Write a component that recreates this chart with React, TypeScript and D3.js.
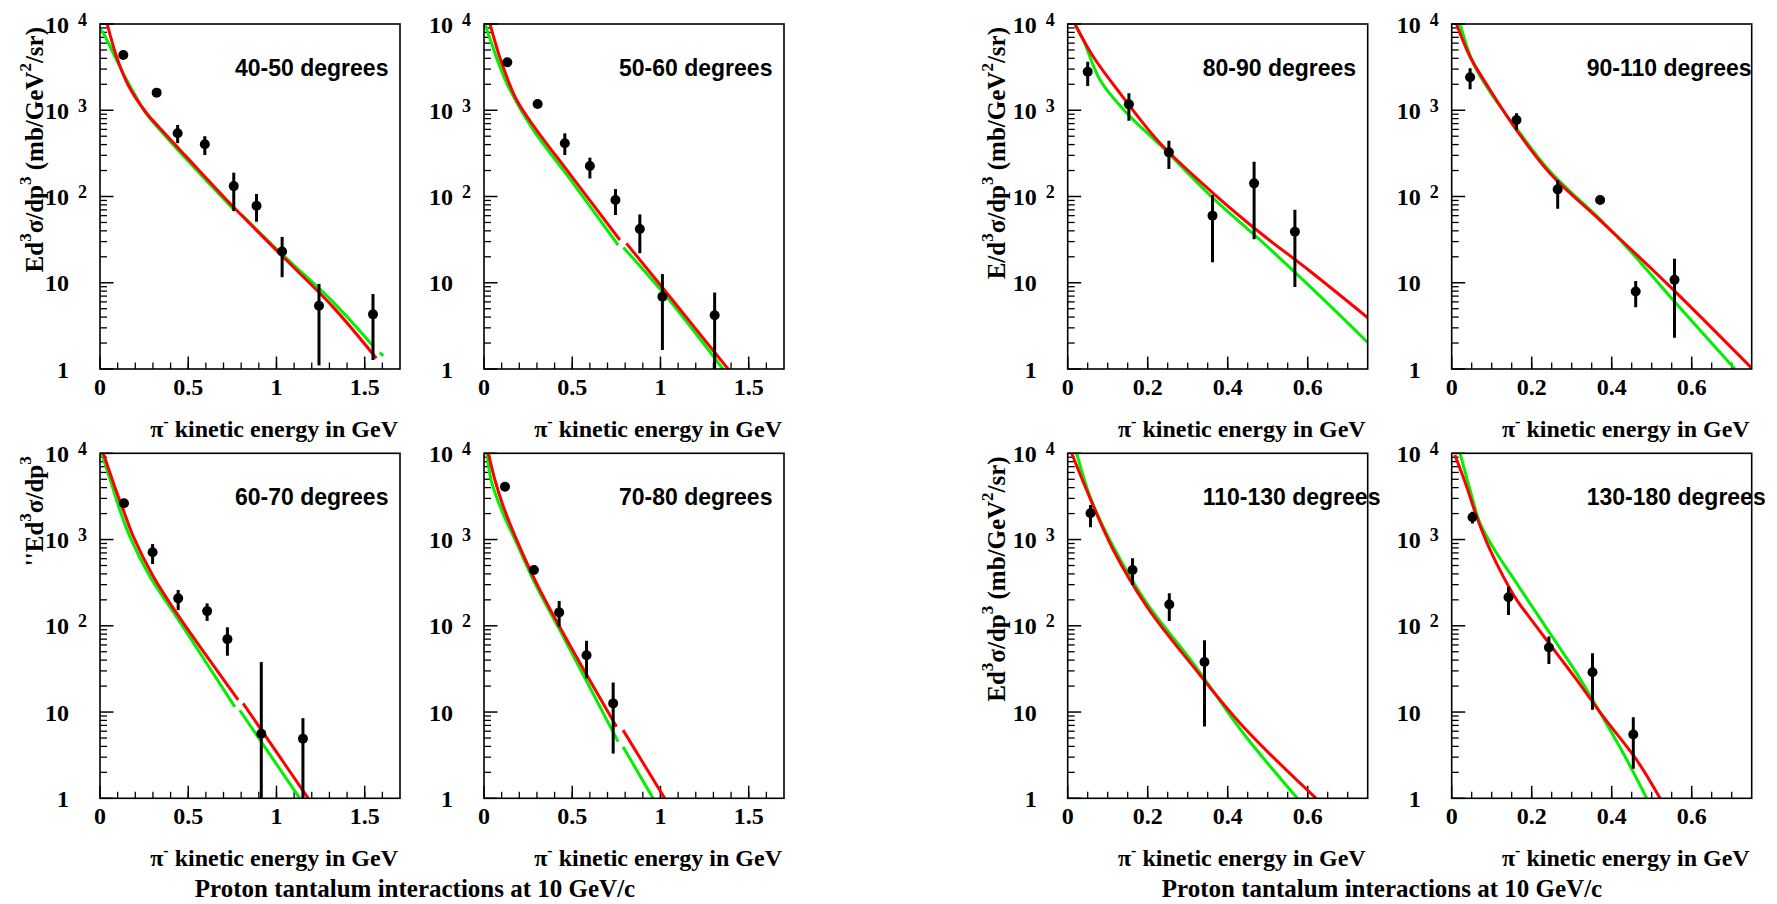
import React from "react";
import * as d3 from "d3";

type Pt = [number, number];

const W = 1777;
const H = 904;

// ---------- text ----------
const panelLabels = [
  "40-50 degrees", "50-60 degrees", "60-70 degrees", "70-80 degrees",
  "80-90 degrees", "90-110 degrees", "110-130 degrees", "130-180 degrees",
];
const xTickValuesLow = [0, 0.5, 1, 1.5];
const xTickLabelsLow = ["0", "0.5", "1", "1.5"];
const xTickValuesHigh = [0, 0.2, 0.4, 0.6];
const xTickLabelsHigh = ["0", "0.2", "0.4", "0.6"];
const yDecades = [1, 10, 100, 1000, 10000];
const yDecadeBase = ["1", "10", "10", "10", "10"];
const yDecadeExp = ["", "", "2", "3", "4"];
const xTitleRest = " kinetic energy in GeV";
const bottomTitle = "Proton tantalum interactions at 10 GeV/c";

type Part = { t: string; sup?: boolean };
const yTitleFull: Part[] = [
  { t: "Ed" }, { t: "3", sup: true }, { t: "σ/dp" }, { t: "3", sup: true },
  { t: " (mb/GeV" }, { t: "2", sup: true }, { t: "/sr)" },
];
const yTitleShort: Part[] = [
  { t: "''Ed" }, { t: "3", sup: true }, { t: "σ/dp" }, { t: "3", sup: true },
];
const yTitleSlash: Part[] = [
  { t: "E/d" }, { t: "3", sup: true }, { t: "σ/dp" }, { t: "3", sup: true },
  { t: " (mb/GeV" }, { t: "2", sup: true }, { t: "/sr)" },
];

// ---------- data: 40-50 degrees ----------
const e40 = [0.132, 0.321, 0.44, 0.594, 0.758, 0.887, 1.032, 1.241, 1.547];
const v40 = [4370, 1600, 540, 403, 132, 78, 23, 5.4, 4.3];
const lo40 = [4000, 1470, 415, 303, 68, 51, 11.6, 1.1, 1.27];
const hi40 = [4750, 1740, 675, 500, 189, 107, 34, 9.7, 7.4];
const red40: Pt[][] = [[[0.041, 10000], [0.094, 4170], [0.16, 1950], [0.264, 923], [0.34, 617], [0.49, 288], [0.755, 75.9], [1.037, 20], [1.32, 5.25], [1.566, 1.33]]];
const green40: Pt[][] = [
  [[0, 8700], [0.019, 7800], [0.085, 4170], [0.1415, 2450], [0.264, 900], [0.34, 590], [0.49, 270], [0.764, 68.4]],
  [[0.8, 62], [1.037, 20.9], [1.32, 6.0], [1.55, 1.82]],
  [[1.585, 1.55], [1.605, 1.42]],
];

// ---------- data: 50-60 degrees ----------
const e50 = [0.132, 0.304, 0.458, 0.6, 0.745, 0.883, 1.011, 1.307];
const v50 = [3600, 1180, 414, 226, 91, 42, 6.9, 4.2];
const lo50 = [3300, 1090, 303, 162, 61, 22, 1.66, 1.0];
const hi50 = [3900, 1270, 540, 282, 122, 62, 12.6, 7.7];
const red50: Pt[][] = [
  [[0.034, 10000], [0.099, 3600], [0.185, 1315], [0.298, 590], [0.487, 182], [0.77, 31.3]],
  [[0.807, 28.6], [1.053, 6.89], [1.383, 1.0]],
];
const green50: Pt[][] = [
  [[0.006, 10000], [0.09, 3200], [0.147, 1720], [0.279, 590], [0.487, 160], [0.76, 27.4]],
  [[0.79, 25.7], [1.05, 6.3], [1.354, 1.0]],
];

// ---------- data: 60-70 degrees ----------
const e60 = [0.136, 0.298, 0.443, 0.607, 0.722, 0.914, 1.15];
const v60 = [2630, 711, 208, 148, 70, 5.6, 4.9];
const lo60 = [2420, 520, 152, 114, 45, 1.0, 1.0];
const hi60 = [2850, 887, 260, 182, 96, 38, 8.5];
const red60: Pt[][] = [
  [[0.019, 10000], [0.075, 4600], [0.132, 2200], [0.189, 1080], [0.302, 372], [0.434, 140], [0.783, 13.8]],
  [[0.811, 12.6], [1.18, 1.0]],
];
const green60: Pt[][] = [
  [[0.009, 10000], [0.06, 4800], [0.113, 2190], [0.17, 1070], [0.283, 372], [0.434, 127], [0.764, 11.5]],
  [[0.792, 10.5], [1.132, 1.0]],
];

// ---------- data: 70-80 degrees ----------
const e70 = [0.119, 0.283, 0.426, 0.581, 0.732];
const v70 = [4100, 444, 143, 45.5, 12.6];
const lo70 = [3780, 410, 98, 24.6, 3.3];
const hi70 = [4450, 480, 194, 67, 22];
const red70: Pt[][] = [
  [[0.025, 10000], [0.062, 4900], [0.11, 2400], [0.185, 990], [0.298, 311], [0.449, 82], [0.751, 6.76]],
  [[0.788, 6.17], [1.024, 1.0]],
];
const green70: Pt[][] = [
  [[0.017, 10000], [0.04, 4900], [0.1, 2190], [0.185, 906], [0.298, 284], [0.449, 75], [0.76, 4.54]],
  [[0.788, 3.96], [0.958, 1.0]],
];

// ---------- data: 80-90 degrees ----------
const e80 = [0.05, 0.153, 0.253, 0.362, 0.466, 0.568];
const v80 = [2800, 1170, 325, 60, 142, 39];
const lo80 = [1910, 757, 208, 17.3, 32, 8.9];
const hi80 = [3660, 1570, 444, 104, 253, 70];
const red80: Pt[][] = [[[0.018, 10000], [0.064, 4170], [0.131, 1570], [0.231, 414], [0.364, 109], [0.481, 38], [0.606, 13.6], [0.752, 3.87]]];
const green80: Pt[][] = [[[0.018, 10000], [0.039, 6530], [0.081, 2240], [0.148, 923], [0.231, 395], [0.364, 95], [0.481, 31.3], [0.606, 9.0], [0.752, 1.99]]];

// ---------- data: 90-110 degrees ----------
const e90 = [0.046, 0.162, 0.265, 0.371, 0.46, 0.557];
const v90 = [2410, 771, 121, 91, 7.9, 10.8];
const lo90 = [1750, 590, 72, 84, 5.2, 2.3];
const hi90 = [3060, 922, 154, 98, 10.5, 19];
const red90: Pt[][] = [[[0.012, 10000], [0.046, 4170], [0.096, 1720], [0.162, 590], [0.246, 185], [0.379, 48.9], [0.546, 9.0], [0.752, 1.0]]];
const green90: Pt[][] = [[[0.021, 10000], [0.054, 3500], [0.104, 1435], [0.162, 617], [0.246, 195], [0.379, 50], [0.446, 23.5], [0.546, 6.9], [0.708, 1.0]]];

// ---------- data: 110-130 degrees ----------
const e110 = [0.057, 0.162, 0.254, 0.342];
const v110 = [2015, 444, 177, 38];
const lo110 = [1390, 297, 114, 6.8];
const hi110 = [2510, 606, 238, 68];
const red110: Pt[][] = [[[0.01, 10000], [0.056, 3000], [0.114, 757], [0.198, 167], [0.314, 33.6], [0.439, 6.76], [0.621, 1.0]]];
const green110: Pt[][] = [[[0.0225, 10000], [0.056, 3140], [0.114, 826], [0.198, 182], [0.314, 36.7], [0.439, 5.68], [0.574, 1.0]]];

// ---------- data: 130-180 degrees ----------
const e130 = [0.052, 0.142, 0.243, 0.352, 0.454];
const v130 = [1810, 214, 56, 28.9, 5.5];
const lo130 = [1540, 133, 36, 10.6, 2.2];
const hi130 = [2100, 284, 75, 48, 8.7];
const red130: Pt[][] = [[[0.008, 9550], [0.0375, 4100], [0.0625, 1840], [0.096, 757], [0.129, 372], [0.1625, 200], [0.212, 98], [0.2625, 47.9], [0.3125, 23.6], [0.379, 8.83], [0.4625, 2.78], [0.521, 1.0]]];
const green130: Pt[][] = [[[0.021, 10000], [0.046, 3760], [0.071, 1540], [0.1125, 692], [0.1625, 311], [0.212, 140], [0.2625, 62.7], [0.3125, 28.1], [0.3625, 11.5], [0.429, 3.33], [0.4875, 1.0]]];

// ---------- assemble ----------
const panelData = [
  { e: e40, v: v40, lo: lo40, hi: hi40, red: red40, green: green40 },
  { e: e50, v: v50, lo: lo50, hi: hi50, red: red50, green: green50 },
  { e: e60, v: v60, lo: lo60, hi: hi60, red: red60, green: green60 },
  { e: e70, v: v70, lo: lo70, hi: hi70, red: red70, green: green70 },
  { e: e80, v: v80, lo: lo80, hi: hi80, red: red80, green: green80 },
  { e: e90, v: v90, lo: lo90, hi: hi90, red: red90, green: green90 },
  { e: e110, v: v110, lo: lo110, hi: hi110, red: red110, green: green110 },
  { e: e130, v: v130, lo: lo130, hi: hi130, red: red130, green: green130 },
];
const yTitles: (Part[] | null)[] = [yTitleFull, null, yTitleShort, null, yTitleSlash, null, yTitleFull, null];

// ---------- layout ----------
const frameW = 300;
const frameH = 345;
const colX = [100, 484, 1067.7, 1451.7];
const rowY = [24, 453.3];
const panelCol = [0, 1, 0, 1, 2, 3, 2, 3];
const panelRow = [0, 0, 1, 1, 0, 0, 1, 1];

const serif = "'Liberation Serif', 'Times New Roman', serif";
const sans = "'Liberation Sans', Arial, sans-serif";

function Panel({ idx }: { idx: number }) {
  const x0 = colX[panelCol[idx]];
  const y0 = rowY[panelRow[idx]];
  const high = idx >= 4;
  const xMax = high ? 0.75 : 1.7;
  const xs = d3.scaleLinear().domain([0, xMax]).range([x0, x0 + frameW]);
  const ys = d3.scaleLog().domain([1, 10000]).range([y0 + frameH, y0]);
  const d = panelData[idx];
  const line = d3
    .line<Pt>()
    .x((p) => xs(p[0]))
    .y((p) => ys(p[1]))
    .curve(d3.curveCatmullRom.alpha(0.5));

  const majorX = high ? xTickValuesHigh : xTickValuesLow;
  const majorXLabels = high ? xTickLabelsHigh : xTickLabelsLow;
  const minorStep = high ? 0.05 : 0.1;
  const minorX: number[] = [];
  for (let k = 1; k * minorStep < xMax - 1e-9; k++) minorX.push(+(k * minorStep).toFixed(4));

  const minorY: number[] = [];
  for (let dec = 0; dec < 4; dec++) for (let m = 2; m <= 9; m++) minorY.push(m * Math.pow(10, dec));

  const bottom = y0 + frameH;
  const title = yTitles[idx];
  const titleX = x0 - (high ? 63 : 57);
  const clipId = `clip${idx}`;

  return (
    <g>
      <defs>
        <clipPath id={clipId}>
          <rect x={x0} y={y0} width={frameW} height={frameH} />
        </clipPath>
      </defs>
      {minorX.map((t, i) => (
        <line key={"mx" + i} x1={xs(t)} x2={xs(t)} y1={bottom} y2={bottom - 6.5} stroke="#000" strokeWidth={1.3} />
      ))}
      {majorX.map((t, i) => (
        <line key={"Mx" + i} x1={xs(t)} x2={xs(t)} y1={bottom} y2={bottom - 12.5} stroke="#000" strokeWidth={1.5} />
      ))}
      {minorY.map((t, i) => (
        <line key={"my" + i} x1={x0} x2={x0 + 7} y1={ys(t)} y2={ys(t)} stroke="#000" strokeWidth={1.3} />
      ))}
      {yDecades.map((t, i) => (
        <line key={"My" + i} x1={x0} x2={x0 + 13.5} y1={ys(t)} y2={ys(t)} stroke="#000" strokeWidth={1.5} />
      ))}
      {majorX.map((t, i) => (
        <text key={"xl" + i} x={xs(t)} y={bottom + 26} textAnchor="middle" fontFamily={serif} fontWeight="bold" fontSize={24}>
          {majorXLabels[i]}
        </text>
      ))}
      {yDecades.map((t, i) => (
        <g key={"yl" + i}>
          <text x={x0 - 31} y={ys(t) + 8.5} textAnchor="end" fontFamily={serif} fontWeight="bold" fontSize={24}>
            {yDecadeBase[i]}
          </text>
          {yDecadeExp[i] && (
            <text x={x0 - 22} y={ys(t) + 1.5} textAnchor="start" fontFamily={serif} fontWeight="bold" fontSize={18}>
              {yDecadeExp[i]}
            </text>
          )}
        </g>
      ))}
      <g clipPath={`url(#${clipId})`}>
        {d.green.map((seg, i) => (
          <path key={"g" + i} d={line(seg) || ""} fill="none" stroke="#00f000" strokeWidth={3} />
        ))}
        {d.red.map((seg, i) => (
          <path key={"r" + i} d={line(seg) || ""} fill="none" stroke="#ff0000" strokeWidth={3} />
        ))}
        {d.e.map((e, i) => (
          <line key={"eb" + i} x1={xs(e)} x2={xs(e)} y1={ys(d.lo[i])} y2={ys(d.hi[i])} stroke="#000" strokeWidth={3} />
        ))}
        {d.e.map((e, i) => (
          <circle key={"pt" + i} cx={xs(e)} cy={ys(d.v[i])} r={5} fill="#000" />
        ))}
      </g>
      <rect x={x0} y={y0} width={frameW} height={frameH} fill="none" stroke="#000" strokeWidth={1.6} />
      <text x={x0 + 135} y={y0 + 52} fontFamily={sans} fontWeight="bold" fontSize={23}>
        {panelLabels[idx]}
      </text>
      <text x={x0 + frameW - 2} y={bottom + 68} textAnchor="end" fontFamily={serif} fontWeight="bold" fontSize={24}>
        <tspan>π</tspan>
        <tspan dy={-10} fontSize={16}>-</tspan>
        <tspan dy={10}>{xTitleRest}</tspan>
      </text>
      {title && (
        <text
          transform={`translate(${titleX},${y0 + 3}) rotate(-90)`}
          textAnchor="end"
          fontFamily={serif}
          fontWeight="bold"
          fontSize={25}
        >
          {title.map((p, i) => {
            const prevSup = i > 0 && title[i - 1].sup;
            const dy = p.sup ? -12 : prevSup ? 12 : 0;
            return (
              <tspan key={i} dy={dy} fontSize={p.sup ? 17 : 25}>
                {p.t}
              </tspan>
            );
          })}
        </text>
      )}
    </g>
  );
}

export default function App() {
  const idxs = [0, 1, 2, 3, 4, 5, 6, 7];
  return (
    <svg
      width={W}
      height={H}
      viewBox={`0 0 ${W} ${H}`}
      style={{ position: "absolute", left: 0, top: 0, background: "#fff" }}
    >
      <rect x={0} y={0} width={W} height={H} fill="#fff" />
      {idxs.map((i) => (
        <Panel key={i} idx={i} />
      ))}
      <text x={415} y={897} textAnchor="middle" fontFamily={serif} fontWeight="bold" fontSize={25}>
        {bottomTitle}
      </text>
      <text x={1382} y={897} textAnchor="middle" fontFamily={serif} fontWeight="bold" fontSize={25}>
        {bottomTitle}
      </text>
    </svg>
  );
}
